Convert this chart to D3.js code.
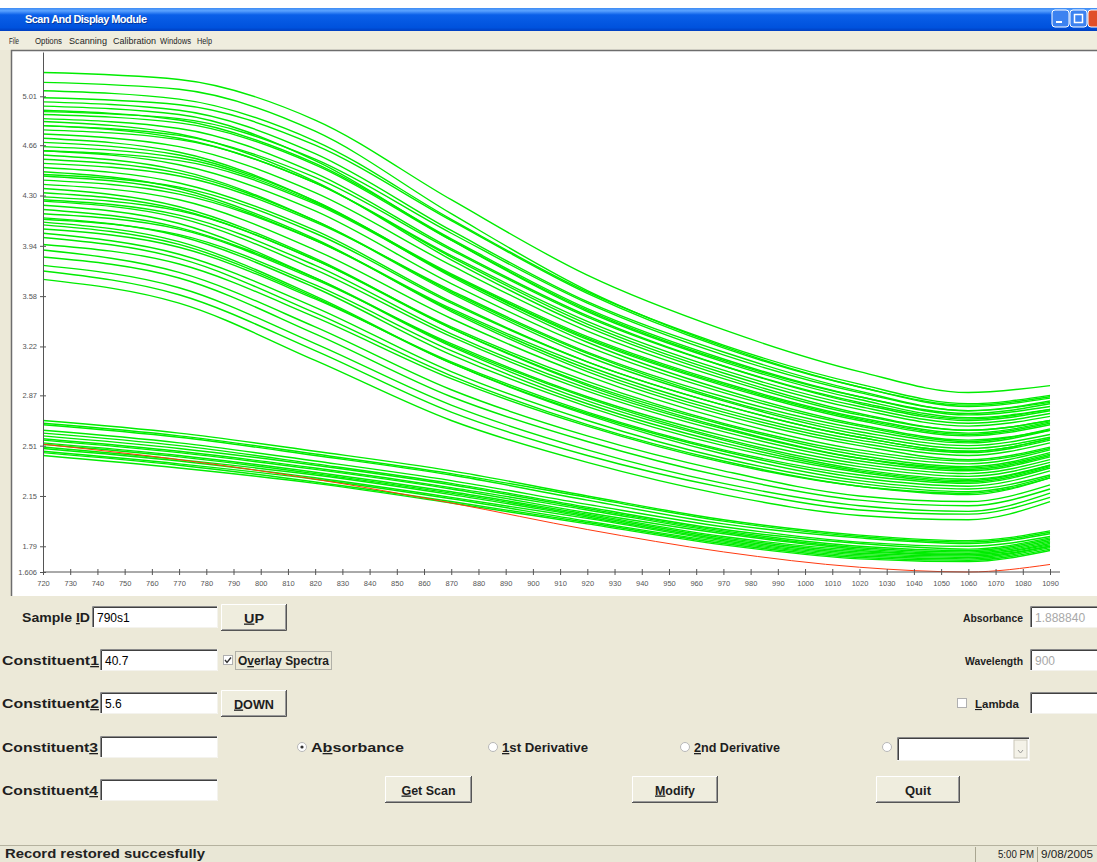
<!DOCTYPE html>
<html>
<head>
<meta charset="utf-8">
<script src="https://cdn.jsdelivr.net/npm/d3@7"></script>
<style>
  body { margin: 0; background: #ece9d8; overflow: hidden; }
  svg { display: block; font-family: "Liberation Sans", Arial, sans-serif; }
</style>
</head>
<body>
<script>
const wavelengths = [720, 770, 820, 870, 920, 970, 1020, 1060, 1090];

// upper cluster of absorbance spectra
const upperSpectra = [
  [5.18, 5.13, 4.84, 4.27, 3.73, 3.34, 3.04, 2.89, 2.94],
  [5.11, 5.06, 4.76, 4.17, 3.62, 3.22, 2.93, 2.79, 2.85],
  [5.05, 4.99, 4.69, 4.13, 3.61, 3.23, 2.95, 2.81, 2.87],
  [5.00, 4.95, 4.66, 4.12, 3.60, 3.21, 2.93, 2.80, 2.86],
  [4.97, 4.91, 4.60, 4.05, 3.54, 3.18, 2.90, 2.76, 2.82],
  [4.94, 4.88, 4.55, 3.98, 3.47, 3.11, 2.84, 2.71, 2.77],
  [4.91, 4.84, 4.53, 3.99, 3.49, 3.13, 2.86, 2.73, 2.79],
  [4.90, 4.85, 4.56, 4.03, 3.53, 3.16, 2.89, 2.76, 2.83],
  [4.88, 4.82, 4.52, 3.98, 3.48, 3.12, 2.86, 2.74, 2.81],
  [4.85, 4.78, 4.46, 3.92, 3.44, 3.08, 2.81, 2.69, 2.76],
  [4.83, 4.74, 4.40, 3.84, 3.36, 3.01, 2.74, 2.62, 2.69],
  [4.80, 4.71, 4.39, 3.86, 3.38, 3.03, 2.77, 2.65, 2.72],
  [4.80, 4.73, 4.43, 3.91, 3.43, 3.08, 2.82, 2.70, 2.77],
  [4.77, 4.70, 4.39, 3.87, 3.40, 3.05, 2.79, 2.67, 2.74],
  [4.74, 4.65, 4.32, 3.80, 3.33, 2.99, 2.73, 2.62, 2.69],
  [4.71, 4.61, 4.26, 3.72, 3.25, 2.91, 2.66, 2.55, 2.62],
  [4.68, 4.59, 4.26, 3.73, 3.27, 2.94, 2.69, 2.58, 2.66],
  [4.65, 4.57, 4.25, 3.74, 3.29, 2.96, 2.71, 2.60, 2.68],
  [4.62, 4.52, 4.19, 3.67, 3.22, 2.89, 2.65, 2.54, 2.63],
  [4.62, 4.55, 4.24, 3.73, 3.28, 2.95, 2.70, 2.59, 2.67],
  [4.59, 4.48, 4.12, 3.60, 3.15, 2.83, 2.59, 2.49, 2.57],
  [4.56, 4.46, 4.12, 3.61, 3.17, 2.84, 2.61, 2.51, 2.59],
  [4.53, 4.44, 4.11, 3.62, 3.18, 2.86, 2.63, 2.53, 2.62],
  [4.50, 4.39, 4.05, 3.54, 3.11, 2.80, 2.57, 2.47, 2.56],
  [4.47, 4.35, 3.99, 3.47, 3.04, 2.73, 2.51, 2.41, 2.50],
  [4.45, 4.36, 4.03, 3.53, 3.11, 2.80, 2.57, 2.47, 2.56],
  [4.44, 4.33, 3.98, 3.48, 3.06, 2.75, 2.53, 2.44, 2.53],
  [4.41, 4.31, 3.98, 3.49, 3.08, 2.77, 2.55, 2.46, 2.55],
  [4.38, 4.27, 3.91, 3.42, 3.01, 2.70, 2.48, 2.40, 2.49],
  [4.35, 4.22, 3.85, 3.35, 2.94, 2.64, 2.42, 2.34, 2.44],
  [4.32, 4.20, 3.84, 3.35, 2.95, 2.66, 2.44, 2.36, 2.46],
  [4.29, 4.19, 3.84, 3.36, 2.97, 2.67, 2.46, 2.38, 2.48],
  [4.27, 4.16, 3.80, 3.31, 2.92, 2.63, 2.42, 2.35, 2.45],
  [4.26, 4.14, 3.77, 3.29, 2.90, 2.61, 2.40, 2.33, 2.43],
  [4.23, 4.10, 3.71, 3.22, 2.83, 2.55, 2.34, 2.27, 2.37],
  [4.20, 4.07, 3.71, 3.23, 2.85, 2.56, 2.36, 2.29, 2.39],
  [4.17, 4.06, 3.70, 3.24, 2.86, 2.58, 2.38, 2.31, 2.41],
  [4.14, 4.01, 3.64, 3.16, 2.79, 2.51, 2.32, 2.25, 2.36],
  [4.13, 4.02, 3.66, 3.19, 2.81, 2.53, 2.33, 2.26, 2.37],
  [4.11, 3.97, 3.58, 3.10, 2.73, 2.45, 2.26, 2.20, 2.30],
  [4.09, 3.95, 3.57, 3.10, 2.74, 2.47, 2.28, 2.22, 2.33],
  [4.06, 3.93, 3.56, 3.11, 2.75, 2.48, 2.30, 2.24, 2.35],
  [4.03, 3.88, 3.50, 3.04, 2.69, 2.42, 2.24, 2.18, 2.29],
  [4.00, 3.85, 3.46, 3.01, 2.66, 2.40, 2.22, 2.16, 2.28],
  [3.95, 3.81, 3.43, 2.99, 2.65, 2.39, 2.22, 2.17, 2.28],
  [3.91, 3.75, 3.36, 2.91, 2.58, 2.33, 2.15, 2.11, 2.23],
  [3.86, 3.71, 3.31, 2.86, 2.54, 2.29, 2.12, 2.08, 2.20],
  [3.80, 3.64, 3.24, 2.80, 2.48, 2.24, 2.08, 2.04, 2.17],
  [3.76, 3.59, 3.19, 2.75, 2.44, 2.21, 2.05, 2.02, 2.14],
  [3.70, 3.53, 3.12, 2.69, 2.39, 2.16, 2.01, 1.98, 2.11]
];

// lower cluster of spectra
const lowerSpectra = [
  [2.69, 2.60, 2.47, 2.33, 2.15, 1.98, 1.87, 1.83, 1.90],
  [2.67, 2.58, 2.45, 2.31, 2.14, 1.97, 1.86, 1.82, 1.89],
  [2.66, 2.57, 2.44, 2.30, 2.12, 1.95, 1.85, 1.81, 1.88],
  [2.62, 2.53, 2.40, 2.26, 2.09, 1.93, 1.82, 1.79, 1.86],
  [2.60, 2.51, 2.38, 2.24, 2.07, 1.91, 1.81, 1.77, 1.85],
  [2.58, 2.49, 2.37, 2.23, 2.06, 1.90, 1.79, 1.76, 1.84],
  [2.56, 2.47, 2.35, 2.21, 2.05, 1.89, 1.78, 1.75, 1.83],
  [2.55, 2.46, 2.34, 2.20, 2.03, 1.88, 1.77, 1.74, 1.82],
  [2.53, 2.44, 2.32, 2.18, 2.02, 1.86, 1.76, 1.73, 1.81],
  [2.52, 2.43, 2.31, 2.17, 2.01, 1.85, 1.75, 1.73, 1.80],
  [2.50, 2.41, 2.30, 2.16, 2.00, 1.84, 1.74, 1.72, 1.79],
  [2.49, 2.40, 2.28, 2.14, 1.99, 1.83, 1.73, 1.71, 1.79],
  [2.47, 2.38, 2.27, 2.13, 1.97, 1.82, 1.72, 1.70, 1.78],
  [2.46, 2.37, 2.25, 2.11, 1.96, 1.81, 1.71, 1.69, 1.77],
  [2.44, 2.35, 2.24, 2.10, 1.95, 1.80, 1.70, 1.68, 1.76]
];

// the selected sample, drawn in red
const selectedSpectrum = [2.52, 2.41, 2.27, 2.10, 1.91, 1.75, 1.64, 1.606, 1.66];

const xTickLabels = [720, 730, 740, 750, 760, 770, 780, 790, 800, 810, 820, 830, 840, 850, 860,
  870, 880, 890, 900, 910, 920, 930, 940, 950, 960, 970, 980, 990, 1000, 1010, 1020, 1030,
  1040, 1050, 1060, 1070, 1080, 1090];
const yTickLabels = ["5.01", "4.66", "4.30", "3.94", "3.58", "3.22", "2.87", "2.51", "2.15", "1.79", "1.606"];

const W = 1097, H = 862;
const svg = d3.select("body").append("svg").attr("width", W).attr("height", H);

const beige = "#ece9d8";
const ink = "#1e1e1e";

svg.append("rect").attr("width", W).attr("height", H).attr("fill", beige);
svg.append("rect").attr("width", W).attr("height", 8).attr("fill", "#fff");

// ---- title bar
const defs = svg.append("defs");
const tg = defs.append("linearGradient").attr("id", "title").attr("x1", 0).attr("y1", 0).attr("x2", 0).attr("y2", 1);
tg.append("stop").attr("offset", "0%").attr("stop-color", "#3f8cf3");
tg.append("stop").attr("offset", "12%").attr("stop-color", "#5aa2ff");
tg.append("stop").attr("offset", "30%").attr("stop-color", "#0a5fe8");
tg.append("stop").attr("offset", "85%").attr("stop-color", "#0052dd");
tg.append("stop").attr("offset", "100%").attr("stop-color", "#003fc0");
svg.append("rect").attr("x", 0).attr("y", 8).attr("width", W).attr("height", 23).attr("fill", "url(#title)");
svg.append("text").attr("x", 26).attr("y", 24).attr("fill", "#0a246a").attr("opacity", 0.6)
  .attr("font-size", 11).attr("font-weight", "bold").attr("textLength", 122).text("Scan And Display Module");
svg.append("text").attr("x", 25).attr("y", 23).attr("fill", "#fff")
  .attr("font-size", 11).attr("font-weight", "bold").attr("textLength", 122).text("Scan And Display Module");

const tbtn = [
  { x: 1052, fill: "#3c82f0" },
  { x: 1070, fill: "#3c82f0" },
  { x: 1088, fill: "#e0502a" }
];
svg.selectAll(".tbtn").data(tbtn).enter().append("rect")
  .attr("x", d => d.x).attr("y", 10).attr("width", 17).attr("height", 17).attr("rx", 3)
  .attr("fill", d => d.fill).attr("stroke", "#fff").attr("stroke-width", 1);
svg.append("rect").attr("x", 1056).attr("y", 21).attr("width", 6).attr("height", 2).attr("fill", "#fff");
svg.append("rect").attr("x", 1074.5).attr("y", 14.5).attr("width", 8).attr("height", 8)
  .attr("fill", "none").attr("stroke", "#fff").attr("stroke-width", 1.5);

// ---- menu bar
svg.append("rect").attr("x", 0).attr("y", 31).attr("width", W).attr("height", 19).attr("fill", "#efedde");
const menus = [
  { t: "File", x: 9, w: 10 },
  { t: "Options", x: 35, w: 27 },
  { t: "Scanning", x: 69, w: 38 },
  { t: "Calibration", x: 113, w: 43 },
  { t: "Windows", x: 160, w: 31 },
  { t: "Help", x: 197, w: 15 }
];
svg.selectAll(".menu").data(menus).enter().append("text")
  .attr("x", d => d.x).attr("y", 44).attr("font-size", 8.5).attr("fill", ink)
  .attr("textLength", d => d.w).attr("lengthAdjust", "spacingAndGlyphs").text(d => d.t);

// ---- plot panel
svg.append("rect").attr("x", 11).attr("y", 50).attr("width", W - 11).attr("height", 546).attr("fill", "#fff");
svg.append("path").attr("d", `M11.5,596V50.5H${W}`).attr("fill", "none").attr("stroke", "#6d6d6d").attr("stroke-width", 1.5);

const x = d3.scaleLinear().domain([720, 1090]).range([43, 1050]);
const y = d3.scaleLinear().domain([1.606, 5.327]).range([572, 52]);

const line = d3.line()
  .x((d, i) => x(wavelengths[i]))
  .y(d => y(d))
  .curve(d3.curveMonotoneX);

const plot = svg.append("g");
plot.selectAll(".upper").data(upperSpectra).enter().append("path")
  .attr("d", line).attr("fill", "none").attr("stroke", "#00ec00").attr("stroke-width", 1.4);
plot.selectAll(".lower").data(lowerSpectra).enter().append("path")
  .attr("d", line).attr("fill", "none").attr("stroke", "#00ec00").attr("stroke-width", 1.4);
plot.append("path").datum(selectedSpectrum)
  .attr("d", line).attr("fill", "none").attr("stroke", "#ff3a10").attr("stroke-width", 1);

// ---- axes
const yAxis = d3.axisLeft(y)
  .tickValues(yTickLabels.map(Number))
  .tickFormat((d, i) => yTickLabels[i])
  .tickSizeInner(3).tickSizeOuter(0).tickPadding(3);
const gy = svg.append("g").attr("transform", "translate(43,0)").call(yAxis);
gy.select(".domain").attr("stroke", "#555");
gy.selectAll(".tick line").attr("x1", 3).attr("stroke", "#555");
gy.selectAll(".tick text").attr("font-size", 7.5).attr("fill", "#555")
  .attr("font-family", "'Liberation Sans', Arial, sans-serif");

const xAxis = d3.axisBottom(x)
  .tickValues(xTickLabels)
  .tickFormat(d3.format("d"))
  .tickSizeInner(3).tickSizeOuter(0).tickPadding(6);
const gx = svg.append("g").attr("transform", "translate(0,572)").call(xAxis);
gx.select(".domain").remove();
gx.append("line").attr("x1", 43).attr("x2", 1060).attr("stroke", "#555");
gx.selectAll(".tick line").attr("y1", -3).attr("stroke", "#555");
gx.selectAll(".tick text").attr("font-size", 7.5).attr("fill", "#555")
  .attr("font-family", "'Liberation Sans', Arial, sans-serif");

// ---- form controls
const ui = svg.append("g").attr("font-size", 13).attr("font-weight", "bold").attr("fill", ink);

function label(t, x0, yb, w, under, fs) {
  const el = ui.append("text").attr("x", x0).attr("y", yb).attr("textLength", w)
    .attr("lengthAdjust", "spacingAndGlyphs");
  if (fs) el.attr("font-size", fs);
  if (under == null) { el.text(t); return el; }
  el.append("tspan").text(t.slice(0, under));
  el.append("tspan").attr("text-decoration", "underline").text(t[under]);
  el.append("tspan").text(t.slice(under + 1));
  return el;
}

function textbox(x0, y0, w, h, value, grey) {
  ui.append("rect").attr("x", x0).attr("y", y0).attr("width", w).attr("height", h).attr("fill", "#fff");
  ui.append("path").attr("d", `M${x0 + 0.5},${y0 + h}V${y0 + 0.5}H${x0 + w}`).attr("fill", "none").attr("stroke", "#8a8a8a");
  ui.append("path").attr("d", `M${x0 + 1.5},${y0 + h - 1}V${y0 + 1.5}H${x0 + w - 1}`).attr("fill", "none").attr("stroke", "#404040");
  ui.append("path").attr("d", `M${x0},${y0 + h - 0.5}H${x0 + w - 0.5}V${y0}`).attr("fill", "none").attr("stroke", "#f4f3ee");
  if (value) {
    ui.append("text").attr("x", x0 + 5).attr("y", y0 + h / 2 + 4.5).attr("font-weight", "normal")
      .attr("font-size", 12).attr("fill", grey ? "#a8a8a8" : "#000").text(value);
  }
}

function button(x0, y0, w, h, t, under, tw) {
  ui.append("rect").attr("x", x0).attr("y", y0).attr("width", w).attr("height", h).attr("fill", "#efedde");
  ui.append("path").attr("d", `M${x0 + 0.5},${y0 + h}V${y0 + 0.5}H${x0 + w}`).attr("fill", "none").attr("stroke", "#fff");
  ui.append("path").attr("d", `M${x0},${y0 + h - 0.5}H${x0 + w - 0.5}V${y0}`).attr("fill", "none").attr("stroke", "#555");
  ui.append("path").attr("d", `M${x0 + 1},${y0 + h - 1.5}H${x0 + w - 1.5}V${y0 + 1}`).attr("fill", "none").attr("stroke", "#9a9a9a");
  label(t, x0 + (w - tw) / 2, y0 + h / 2 + 5, tw, under);
}

function radio(cx, cy, on) {
  ui.append("circle").attr("cx", cx).attr("cy", cy).attr("r", 4.5).attr("fill", "#fff")
    .attr("stroke", "#b8b8b8").attr("stroke-width", 1);
  if (on) ui.append("circle").attr("cx", cx).attr("cy", cy).attr("r", 1.6).attr("fill", "#333");
}

function checkbox(x0, y0, on) {
  ui.append("rect").attr("x", x0 + 0.5).attr("y", y0 + 0.5).attr("width", 9).attr("height", 9)
    .attr("fill", "#fff").attr("stroke", "#b0b0b0");
  if (on) ui.append("path").attr("d", `M${x0 + 2},${y0 + 5}l2,2.5l4,-5`).attr("fill", "none")
    .attr("stroke", "#333").attr("stroke-width", 1.4);
}

// left column
label("Sample ID", 22, 622, 68, 7);
textbox(92, 606, 126, 22, "790s1");
button(221, 604, 66, 27, "UP", 0, 20);

label("Constituent1", 2, 665, 97, 11);
textbox(100, 649, 118, 22, "40.7");
checkbox(223, 655, true);
label("Overlay Spectra", 238, 665, 91, 1);
ui.append("rect").attr("x", 235.5).attr("y", 651.5).attr("width", 96).attr("height", 18)
  .attr("fill", "none").attr("stroke", "#777").attr("stroke-dasharray", "1,1");

label("Constituent2", 2, 708, 97, 11);
textbox(100, 692, 118, 22, "5.6");
button(221, 690, 66, 27, "DOWN", 0, 40);

label("Constituent3", 2, 752, 96, 11);
textbox(100, 736, 118, 22, "");
radio(302, 747, true);
label("Absorbance", 311, 752, 93, 1);
radio(493, 747, false);
label("1st Derivative", 502, 752, 86, 0);
radio(685, 747, false);
label("2nd Derivative", 694, 752, 86, 0);
radio(887, 747, false);
textbox(897, 737, 133, 24, "");
ui.append("rect").attr("x", 1014).attr("y", 740).attr("width", 13).attr("height", 18).attr("fill", "#f4f2e8")
  .attr("stroke", "#c9c6b8");
ui.append("path").attr("d", "M1018,750l2.5,3l2.5,-3").attr("fill", "none").attr("stroke", "#999");

label("Constituent4", 2, 795, 96, 11);
textbox(100, 779, 118, 22, "");
button(385, 776, 87, 27, "Get Scan", 0, 54);
button(632, 776, 86, 27, "Modify", 0, 40);
button(876, 776, 84, 27, "Quit", null, 26);

// right column
label("Absorbance", 963, 622, 60, null, 10.5);
textbox(1030, 606, 80, 22, "1.888840", true);
label("Wavelength", 965, 665, 58, null, 10.5);
textbox(1030, 649, 80, 22, "900", true);
checkbox(957, 698, false);
label("Lambda", 975, 708, 44, 0, 11);
textbox(1030, 692, 80, 22, "");

// ---- status bar
svg.append("rect").attr("x", 0).attr("y", 845).attr("width", W).attr("height", 17).attr("fill", "#e9e7d6");
svg.append("line").attr("x1", 0).attr("x2", W).attr("y1", 845.5).attr("y2", 845.5).attr("stroke", "#b5b29f");
[975, 1037].forEach(sx => {
  svg.append("line").attr("x1", sx + 0.5).attr("x2", sx + 0.5).attr("y1", 847).attr("y2", 862).attr("stroke", "#a9a691");
});
const status = svg.append("g").attr("font-size", 12.5).attr("font-weight", "bold").attr("fill", "#222");
status.append("text").attr("x", 5).attr("y", 858).attr("textLength", 200).attr("lengthAdjust", "spacingAndGlyphs")
  .text("Record restored succesfully");
status.append("text").attr("x", 998).attr("y", 858).attr("textLength", 36).attr("font-weight", "normal")
  .attr("font-size", 10).attr("lengthAdjust", "spacingAndGlyphs").text("5:00 PM");
status.append("text").attr("x", 1041).attr("y", 858).attr("textLength", 52).attr("font-weight", "normal")
  .attr("font-size", 10).attr("lengthAdjust", "spacingAndGlyphs").text("9/08/2005");
</script>
</body>
</html>
